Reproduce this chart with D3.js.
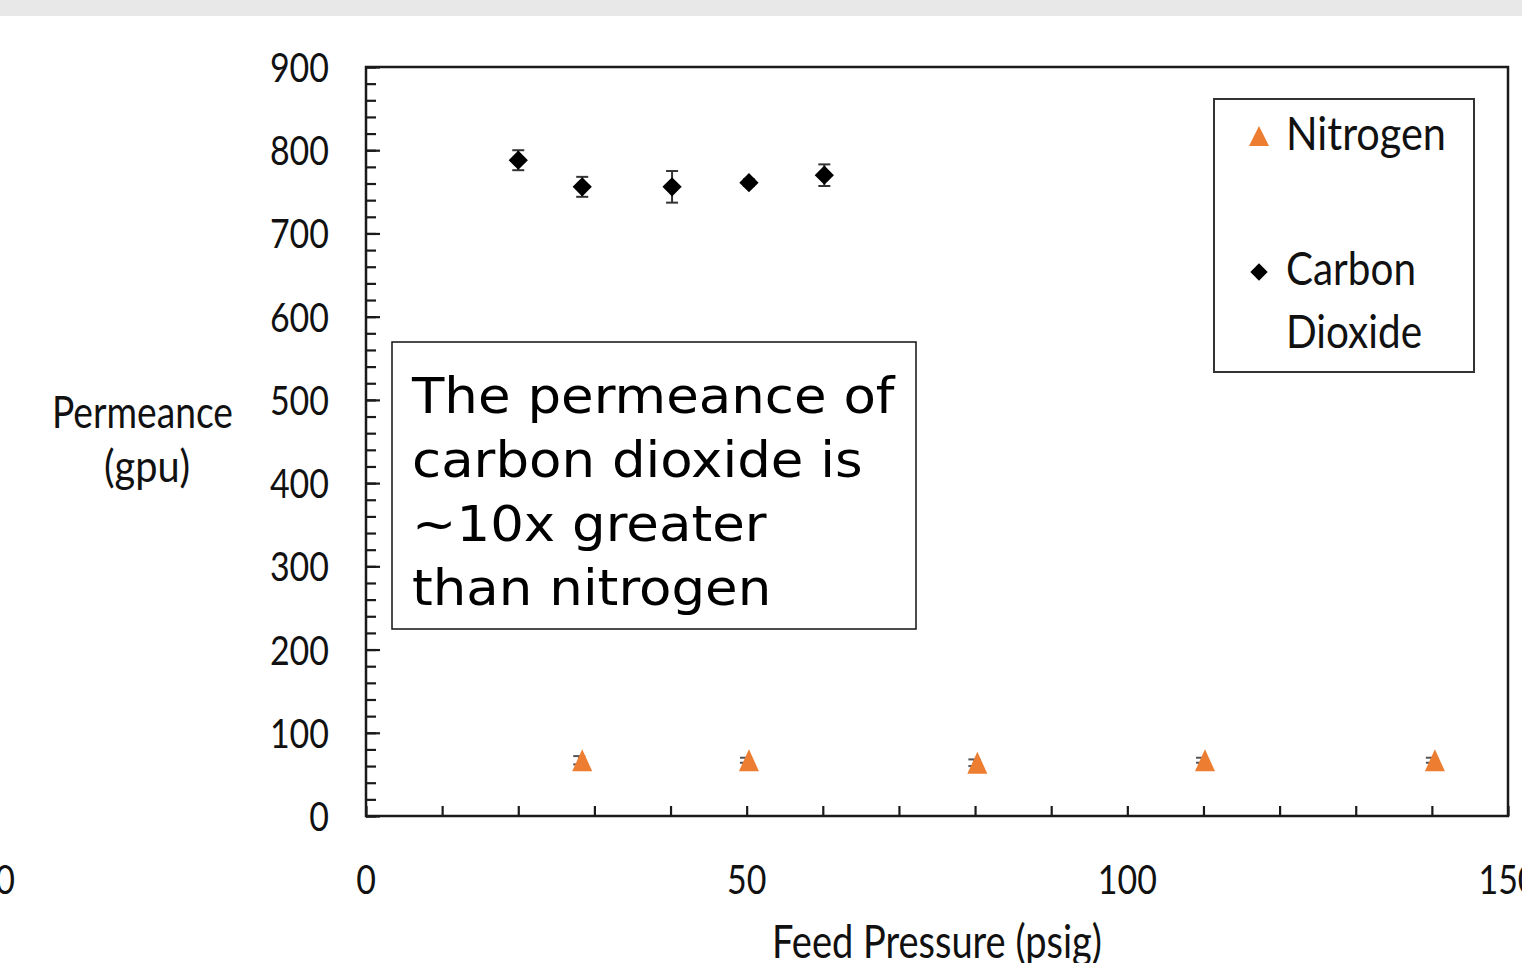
<!DOCTYPE html>
<html>
<head>
<meta charset="utf-8">
<script src="https://cdn.jsdelivr.net/npm/d3@7"></script>
<style>
  html, body { margin: 0; padding: 0; background: #fff; overflow: hidden; }
  svg { display: block; }
</style>
</head>
<body>
<div id="chart"></div>
<script>
// data
var co2Pressure = [20, 28.4, 40.2, 50.3, 60.2];
var co2Permeance = [788, 756, 756, 761, 770];
var co2Error = [12, 12, 19, 4, 13];

var n2Pressure = [28.4, 50.3, 80.3, 110.2, 140.4];
var n2Permeance = [67, 67, 64, 67, 67];
var n2Error = [5, 3, 4, 3, 3];

var xTickLabels = [0, 50, 100, 150];
var yTickLabels = [0, 100, 200, 300, 400, 500, 600, 700, 800, 900];
var noteLines = ["The permeance of", "carbon dioxide is", "~10x greater", "than nitrogen"];

var W = 1522, H = 963;
var orange = "#ED7D31";
var calibri = "Lato, 'Open Sans', sans-serif";

var svg = d3.select("#chart").append("svg")
	.attr("width", W)
	.attr("height", H);

svg.append("rect").attr("width", W).attr("height", H).attr("fill", "#fff");
//slide header strip
svg.append("rect").attr("x", 0).attr("y", 0).attr("width", W).attr("height", 16).attr("fill", "#e8e8e8");

var x = d3.scaleLinear().domain([0, 150]).range([366, 1508]);
var y = d3.scaleLinear().domain([0, 900]).range([816, 67]);

//text that looks like calibri: font size sets the height, textLength the width
function calText(g, px, py, str, size, width, anchor) {
	return g.append("text")
		.attr("x", px).attr("y", py)
		.attr("font-family", calibri)
		.attr("font-size", size)
		.attr("fill", "#111")
		.attr("text-anchor", anchor || "start")
		.attr("textLength", width)
		.attr("lengthAdjust", "spacingAndGlyphs")
		.text(str);
}

//ticks, inward
var minorY = svg.append("g").attr("transform", "translate(" + x(0) + ",0)")
	.call(d3.axisRight(y).tickValues(d3.range(0, 901, 20)).tickSize(10).tickFormat(""));
var majorY = svg.append("g").attr("transform", "translate(" + x(0) + ",0)")
	.call(d3.axisRight(y).tickValues(yTickLabels).tickSize(14).tickFormat(""));
var ticksX = svg.append("g").attr("transform", "translate(0," + y(0) + ")")
	.call(d3.axisTop(x).tickValues(d3.range(0, 151, 10)).tickSize(10).tickFormat(""));

[minorY, majorY, ticksX].forEach(function(a) {
	a.select(".domain").remove();
	a.selectAll("line").attr("stroke", "#1a1a1a").attr("stroke-width", 2.2);
});

//plot frame
svg.append("rect")
	.attr("x", x(0)).attr("y", y(900))
	.attr("width", x(150) - x(0)).attr("height", y(0) - y(900))
	.attr("fill", "none").attr("stroke", "#1a1a1a").attr("stroke-width", 2.5);

//tick labels
yTickLabels.forEach(function(v) {
	var s = String(v);
	calText(svg, 329, y(v) + 15, s, 41, 19.7 * s.length, "end");
});
xTickLabels.forEach(function(v) {
	var s = String(v);
	calText(svg, x(v), 894, s, 41, 19.7 * s.length, "middle");
});
//stray label cut off at the left edge
calText(svg, 5, 894, "0", 41, 19.7, "middle");

//axis titles
calText(svg, 142.5, 428, "Permeance", 44, 181, "middle");
calText(svg, 147, 482, "(gpu)", 44, 86, "middle");
calText(svg, 937, 958, "Feed Pressure (psig)", 46, 330, "middle");

var co2 = co2Pressure.map(function(p, i) { return {x: p, y: co2Permeance[i], e: co2Error[i]}; });
var n2 = n2Pressure.map(function(p, i) { return {x: p, y: n2Permeance[i], e: n2Error[i]}; });

function errorBars(data, color, shift) {
	var g = svg.append("g").attr("stroke", color).attr("stroke-width", 2).attr("fill", "none");
	data.forEach(function(d) {
		var cx = x(d.x) + shift, y0 = y(d.y - d.e), y1 = y(d.y + d.e);
		g.append("line").attr("x1", cx).attr("x2", cx).attr("y1", y0).attr("y2", y1);
		g.append("line").attr("x1", cx - 6).attr("x2", cx + 6).attr("y1", y0).attr("y2", y0);
		g.append("line").attr("x1", cx - 6).attr("x2", cx + 6).attr("y1", y1).attr("y2", y1);
	});
}

errorBars(n2, "#555", -3);
errorBars(co2, "#333", 0);

//excel style markers: a square turned 45 degrees, and a slightly tall triangle
var diamond = d3.symbol().type(d3.symbolSquare).size(185);
var triangle = "M0,-11L10,11L-10,11Z";

svg.append("g").selectAll("path")
	.data(co2).enter().append("path")
		.attr("d", diamond)
		.attr("transform", function(d) { return "translate(" + x(d.x) + "," + y(d.y) + ") rotate(45)"; })
		.attr("fill", "#000");

svg.append("g").selectAll("path")
	.data(n2).enter().append("path")
		.attr("d", triangle)
		.attr("transform", function(d) { return "translate(" + x(d.x) + "," + y(d.y) + ")"; })
		.attr("fill", orange);

//legend
var legend = svg.append("g");
legend.append("rect")
	.attr("x", 1214).attr("y", 99).attr("width", 260).attr("height", 273)
	.attr("fill", "#fff").attr("stroke", "#333").attr("stroke-width", 2);
legend.append("path").attr("d", "M0,-10L10,10L-10,10Z").attr("transform", "translate(1259,136)").attr("fill", orange);
legend.append("path").attr("d", d3.symbol().type(d3.symbolSquare).size(150))
	.attr("transform", "translate(1259,272) rotate(45)").attr("fill", "#000");
calText(legend, 1286, 150, "Nitrogen", 46, 160);
calText(legend, 1286, 285, "Carbon", 46, 130);
calText(legend, 1286, 348, "Dioxide", 46, 136);

//annotation
var note = svg.append("g");
note.append("rect")
	.attr("x", 392).attr("y", 342).attr("width", 524).attr("height", 287)
	.attr("fill", "#fff").attr("stroke", "#111").attr("stroke-width", 1.5);
note.selectAll("text")
	.data(noteLines).enter().append("text")
		.attr("x", 412)
		.attr("y", function(d, i) { return 413 + i * 64; })
		.attr("font-family", "'DejaVu Sans', Verdana, sans-serif")
		.attr("font-size", 50)
		.attr("fill", "#000")
		.text(function(d) { return d; })
		//reference face is a touch wider than DejaVu
		.each(function() {
			var len = this.getComputedTextLength();
			d3.select(this).attr("textLength", len * 1.06).attr("lengthAdjust", "spacingAndGlyphs");
		});
</script>
</body>
</html>
